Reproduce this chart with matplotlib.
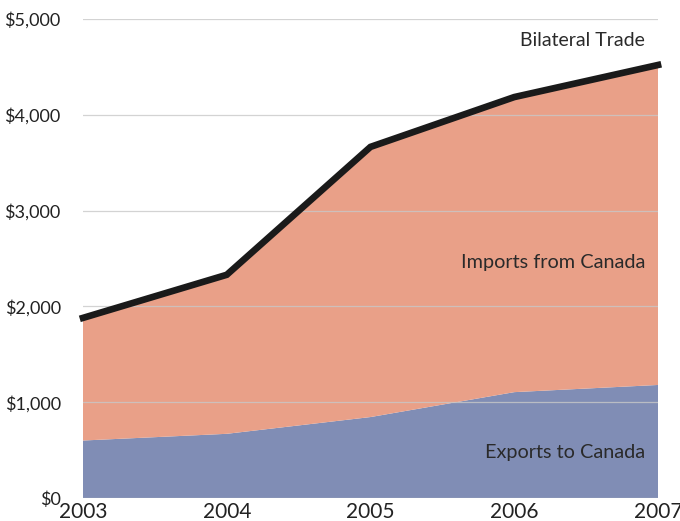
import matplotlib
matplotlib.use("Agg")
import matplotlib.pyplot as plt
from matplotlib.ticker import FuncFormatter

years = [2003, 2004, 2005, 2006, 2007]
exports = [600, 670, 845, 1105, 1180]
bilateral = [1880, 2330, 3665, 4185, 4520]
imports = [b - e for b, e in zip(bilateral, exports)]
yticks = [0, 1000, 2000, 3000, 4000, 5000]

plt.rcParams['font.family'] = ['Lato', 'DejaVu Sans']

fig = plt.figure(figsize=(6.8, 5.21), dpi=100)
ax = fig.add_axes([83/680, 23/521, 575/680, 479/521])

ax.stackplot(years, exports, imports, colors=['#808db5', '#e9a088'], linewidth=0, zorder=1)
ax.plot(years, bilateral, color='#1a1a1a', linewidth=4.8, solid_joinstyle='miter', zorder=3, clip_on=False)

for y in yticks:
    ax.axhline(y, color='#c8c8c8', linewidth=0.9, alpha=0.8, zorder=2)

ax.set_xlim(2003, 2007)
ax.set_ylim(0, 5000)
ax.set_xticks(years)
ax.set_yticks(yticks)
ax.yaxis.set_major_formatter(FuncFormatter(lambda v, p: '${:,.0f}'.format(v)))
ax.tick_params(axis='both', length=0, colors='#222222')
ax.tick_params(axis='y', labelsize=13, pad=16)
ax.tick_params(axis='x', labelsize=15, pad=3)
for s in ax.spines.values():
    s.set_visible(False)

ax.text(2006.91, 4780, 'Bilateral Trade', ha='right', va='center', fontsize=14, color='#2a2a2a')
ax.text(2006.91, 2460, 'Imports from Canada', ha='right', va='center', fontsize=14.3, color='#2a2a2a')
ax.text(2006.91, 470, 'Exports to Canada', ha='right', va='center', fontsize=14.3, color='#2a2a2a')

fig.savefig('out.png', dpi=100)
